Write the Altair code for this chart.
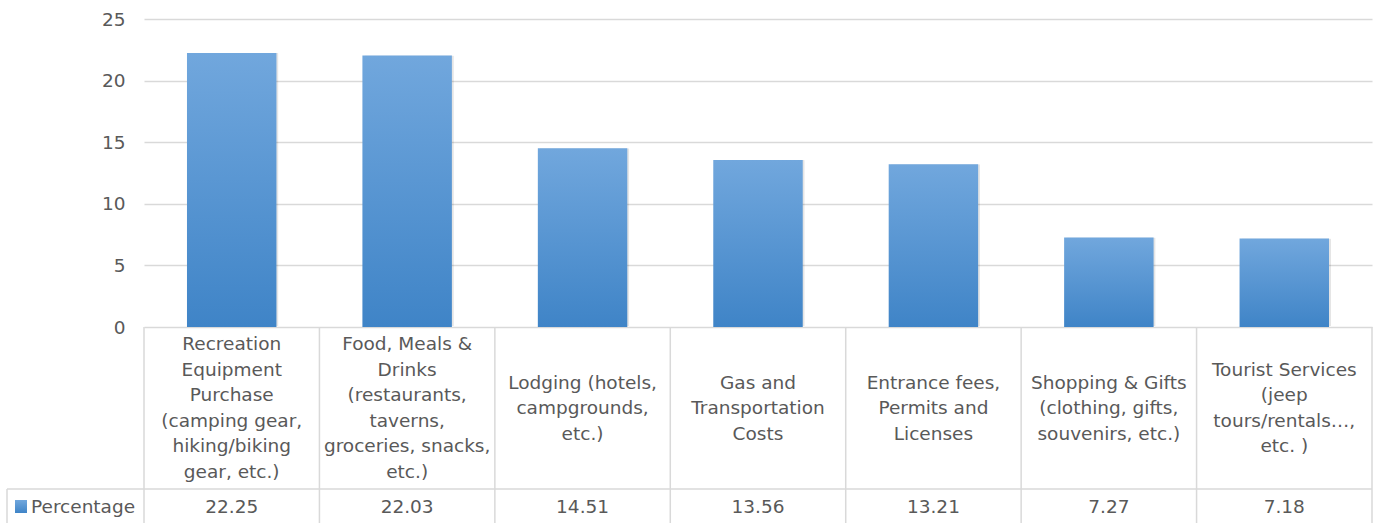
import altair as alt
import pandas as pd

# Spending categories (line breaks as shown in the table header row)
categories = [
    "Recreation\nEquipment\nPurchase\n(camping gear,\nhiking/biking\ngear, etc.)",
    "Food, Meals &\nDrinks\n(restaurants,\ntaverns,\ngroceries, snacks,\netc.)",
    "Lodging (hotels,\ncampgrounds,\netc.)",
    "Gas and\nTransportation\nCosts",
    "Entrance fees,\nPermits and\nLicenses",
    "Shopping & Gifts\n(clothing, gifts,\nsouvenirs, etc.)",
    "Tourist Services\n(jeep\ntours/rentals…,\netc. )",
]
percentages = [22.25, 22.03, 14.51, 13.56, 13.21, 7.27, 7.18]
value_labels = ["22.25", "22.03", "14.51", "13.56", "13.21", "7.27", "7.18"]
series_name = "Percentage"
y_ticks = [0, 5, 10, 15, 20, 25]

FONT = "DejaVu Sans"
FS = 18.5
TXT = "#595959"
GRID = "#d9d9d9"
PLOT_W, PLOT_H = 1228, 308
LH = 25.5
HEADER_MID = PLOT_H + 81
ROW_LINE = PLOT_H + 162
VALUE_MID = PLOT_H + 180
BOTTOM = PLOT_H + 210
LEFT = 7 - 144

df = pd.DataFrame({
    "cat": categories,
    "nlines": [c.count("\n") + 1 for c in categories],
    "pct": percentages,
    "label": value_labels,
})
bounds = pd.DataFrame({"b": list(range(len(categories) + 1))})
one = pd.DataFrame({"k": [series_name]})

bar_fill = alt.Gradient(
    gradient="linear",
    stops=[alt.GradientStop(color="#71a7dd", offset=0),
           alt.GradientStop(color="#3f84c7", offset=1)],
    x1=0, x2=0, y1=0, y2=1,
)

x_band = alt.X("cat:N", sort=categories, axis=None,
               scale=alt.Scale(paddingInner=0.49, paddingOuter=0.245))
y_lin = alt.Y("pct:Q", scale=alt.Scale(domain=[0, 25]),
              axis=alt.Axis(values=y_ticks, title=None, domain=False, ticks=False,
                            labelPadding=19, labelFont=FONT, labelFontSize=FS,
                            labelColor=TXT, grid=True, gridColor=GRID, gridWidth=1.5))

# Soft drop shadow behind each bar, then the gradient bar itself
shadow = alt.Chart(df).mark_bar(
    fill="#000000", opacity=0.10, xOffset=2, yOffset=-1, cornerRadius=1,
).encode(x=x_band, y=y_lin)
bars = alt.Chart(df).mark_bar(fill=bar_fill).encode(x=x_band, y=y_lin)

# Table header row: multi-line category labels centred vertically in the cell
header = alt.Chart(df).transform_calculate(
    ty=f"{HEADER_MID} - (datum.nlines - 1) * {LH / 2}"
).mark_text(
    font=FONT, fontSize=FS, color=TXT, lineBreak="\n", lineHeight=LH,
    baseline="middle", align="center",
).encode(x=x_band, y=alt.Y("ty:Q", scale=None), text="cat:N")

# Table value row
values_row = alt.Chart(df).transform_calculate(ty=f"{VALUE_MID}").mark_text(
    font=FONT, fontSize=FS, color=TXT, baseline="middle", align="center",
).encode(x=x_band, y=alt.Y("ty:Q", scale=None), text="label:N")

# Column separators of the data table
col_lines = alt.Chart(bounds).transform_calculate(
    y0=f"{PLOT_H}", y1=f"{BOTTOM}"
).mark_rule(color=GRID, strokeWidth=1.5).encode(
    x=alt.X("b:Q", scale=alt.Scale(domain=[0, len(categories)]), axis=None),
    y=alt.Y("y0:Q", scale=None), y2="y1:Q")

# Horizontal line between header and value rows, plus the legend cell edge
row_line = alt.Chart(one).transform_calculate(
    x0=f"{LEFT}", x1=f"{PLOT_W}", yy=f"{ROW_LINE}"
).mark_rule(color=GRID, strokeWidth=1.5).encode(
    x=alt.X("x0:Q", scale=None), x2="x1:Q", y=alt.Y("yy:Q", scale=None))
legend_edge = alt.Chart(one).transform_calculate(
    xx=f"{LEFT}", y0=f"{ROW_LINE}", y1=f"{BOTTOM}"
).mark_rule(color=GRID, strokeWidth=1.5).encode(
    x=alt.X("xx:Q", scale=None), y=alt.Y("y0:Q", scale=None), y2="y1:Q")

# Legend key in the table's first column
key = alt.Chart(one).transform_calculate(
    x0=f"{15 - 144}", x1=f"{27 - 144}", y0=f"{VALUE_MID - 7}", y1=f"{VALUE_MID + 6}"
).mark_rect(fill=bar_fill).encode(
    x=alt.X("x0:Q", scale=None), x2="x1:Q",
    y=alt.Y("y0:Q", scale=None), y2="y1:Q")
key_text = alt.Chart(one).transform_calculate(
    xx=f"{31 - 144}", yy=f"{VALUE_MID}"
).mark_text(
    font=FONT, fontSize=FS, color=TXT, baseline="middle", align="left",
).encode(x=alt.X("xx:Q", scale=None), y=alt.Y("yy:Q", scale=None), text="k:N")

chart = alt.layer(
    shadow, bars, header, values_row, col_lines, row_line, legend_edge, key, key_text
).resolve_scale(x="independent").properties(
    width=PLOT_W, height=PLOT_H,
    background="white",
    autosize=alt.AutoSizeParams(type="none"),
    padding={"left": 144, "top": 19, "right": 4, "bottom": 196},
).configure_view(strokeWidth=0, stroke="transparent")

chart.save("out.html", embed_options={"renderer": "svg", "actions": False})
